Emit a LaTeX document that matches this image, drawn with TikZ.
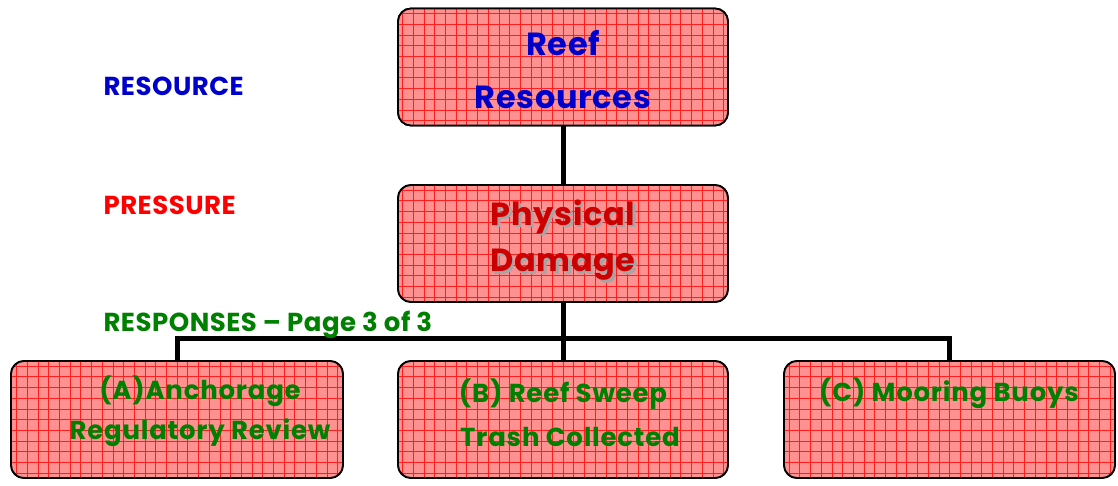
\documentclass[tikz,border=0pt]{standalone}
\usepackage{fontspec}
\setmainfont{Poppins}
\definecolor{boxfill}{RGB}{255,145,145}
\definecolor{gridred}{RGB}{255,30,30}
\definecolor{tblue}{RGB}{0,0,204}
\definecolor{tdred}{RGB}{204,0,0}
\definecolor{tgreen}{RGB}{0,128,0}
\definecolor{shadowgray}{RGB}{165,165,165}
\newcommand{\shadowed}[1]{\makebox[0pt][l]{\kern2.5pt\raisebox{-2.5pt}{\color{shadowgray}#1}}#1}
\begin{document}
\begin{tikzpicture}[x=1pt,y=-1pt,
  gridbox/.style={draw=black,line width=1.8pt,rounded corners=13pt,fill=boxfill,
    path picture={\draw[gridred,line width=0.55pt,step=10.7pt]
      ([xshift=-20pt,yshift=-20pt]path picture bounding box.south west) grid
      ([xshift=20pt,yshift=20pt]path picture bounding box.north east);},
    minimum height=117pt,inner sep=0pt},
  conn/.style={line width=5pt,draw=black},
  big/.style={font=\fontsize{32}{38}\selectfont\bfseries\addfontfeatures{LetterSpace=2},align=center},
  mid/.style={font=\fontsize{26}{30}\selectfont\bfseries\addfontfeatures{LetterSpace=3},text=tgreen},
  lab/.style={font=\fontsize{26}{30}\selectfont\bfseries\addfontfeatures{LetterSpace=2},anchor=west}]
\useasboundingbox (0,0) rectangle (1118,486);
\coordinate (bus) at (563,338);
\node[gridbox,minimum width=330pt] (reef) at (563,67) {};
\node[gridbox,minimum width=330pt] (phys) at (563,243.5) {};
\node[gridbox,minimum width=332pt] (boxA) at (177,419.5) {};
\node[gridbox,minimum width=330pt] (boxB) at (563,419.5) {};
\node[gridbox,minimum width=331pt] (boxC) at (949.5,419.5) {};
\draw[conn] (reef.south) -- (phys.north);
\draw[conn] (phys.south) -- (boxB.north);
\draw[conn] (boxA.north) -- (boxA.north |- bus) -- (boxC.north |- bus) -- (boxC.north);
% redraw boxes on top of connector ends
\node[gridbox,minimum width=330pt] at (563,67) {};
\node[gridbox,minimum width=330pt] at (563,243.5) {};
\node[gridbox,minimum width=332pt] at (177,419.5) {};
\node[gridbox,minimum width=330pt] at (563,419.5) {};
\node[gridbox,minimum width=331pt] at (949.5,419.5) {};
% box texts
\node[big,text=tblue] (t1) at (563,43) {Reef};
\node[big,text=tblue] (t2) at (563,97) {Resources};
\node[big,text=tdred] (t3) at (563,218) {\shadowed{Physical}};
\node[big,text=tdred] (t4) at (563,266) {\shadowed{Damage}};
\node[mid] (ta1) at (200,391) {(A)Anchorage};
\node[mid] (ta2) at (200,433) {Regulatory Review};
\node[mid] (tb1) at (563,394) {(B) Reef Sweep};
\node[mid] (tb2) at (570,437) {Trash Collected};
\node[mid] (tc1) at (949,393) {(C) Mooring Buoys};
% side labels
\node[lab,text=tblue] (l1) at (100,86) {RESOURCE};
\node[lab,text=red] (l2) at (100,205) {PRESSURE};
\node[lab,text=tgreen] (l3) at (100,325) {RESPONSES – Page 3 of 3};
\end{tikzpicture}
\end{document}
